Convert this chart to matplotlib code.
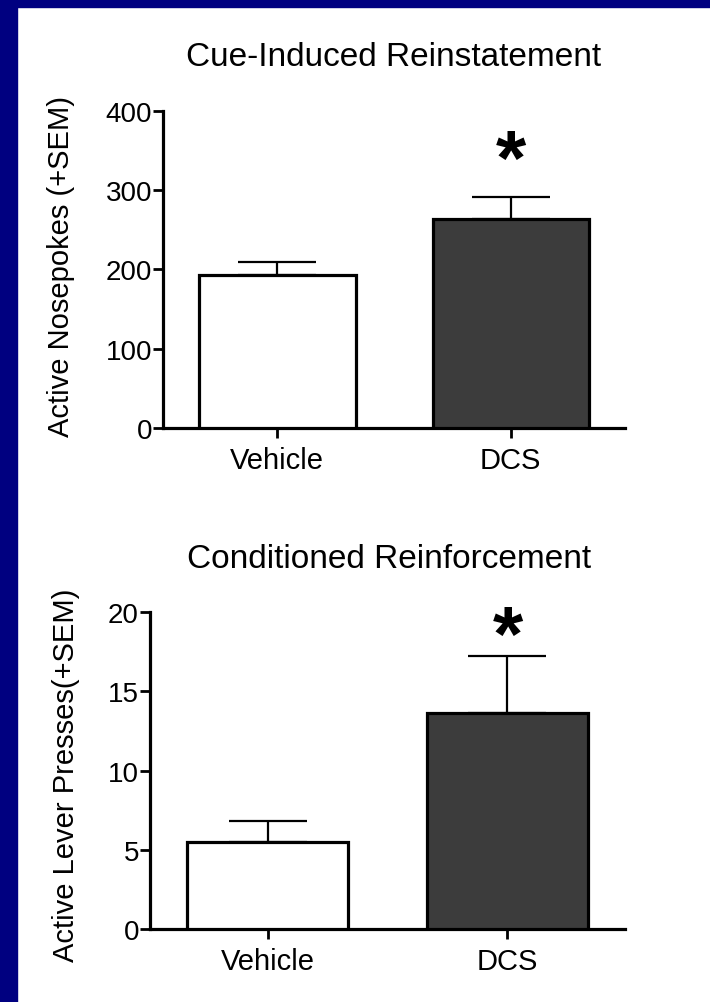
import matplotlib
matplotlib.use("Agg")
import matplotlib.pyplot as plt
from matplotlib.patches import Rectangle

# group names and values for the two experiments
groups = ["Vehicle", "DCS"]
nosepokes_mean = [193, 264]
nosepokes_sem = [16, 27]
presses_mean = [5.5, 13.6]
presses_sem = [1.3, 3.6]

cue_ticks = [0, 100, 200, 300, 400]
cr_ticks = [0, 5, 10, 15, 20]

# height of the significance star in each panel
cue_star = 334
cr_star = 18.3

plt.rcParams['font.family'] = ['Liberation Sans', 'DejaVu Sans']

bar_colours = ['white', '#3c3c3c']
navy = '#000080'


def draw_panel(ax, means, sems, ticks, ylabel, label_x, label_y, star_y):
    """
    Draws one bar panel with upper SEM error bars and a star over DCS.
    """
    x = list(range(len(groups)))
    ax.bar(x, means, width=0.67, color=bar_colours, edgecolor='black',
           linewidth=2.3, zorder=3)
    ax.errorbar(x, means, yerr=[[0] * len(sems), sems], fmt='none',
                ecolor='black', elinewidth=1.6, capsize=28, capthick=1.6,
                zorder=2)

    ax.set_xlim(-0.49, 1.49)
    ax.set_ylim(ticks[0], ticks[-1])
    ax.set_yticks(ticks)
    ax.set_xticks(x)
    ax.set_xticklabels(groups)

    for side in ['top', 'right']:
        ax.spines[side].set_visible(False)
    for side in ['left', 'bottom']:
        ax.spines[side].set_linewidth(2.3)

    ax.tick_params(axis='y', length=7, width=2, labelsize=20, pad=1)
    ax.tick_params(axis='x', length=7, width=2, labelsize=21, pad=6)

    ax.set_ylabel(ylabel, fontsize=21)
    ax.yaxis.set_label_coords(label_x, label_y)

    # significance star above the DCS bar
    ax.text(1, star_y, '*', fontsize=56, fontweight='bold',
            ha='center', va='center', clip_on=False)


fig = plt.figure(figsize=(7.1, 10.03), dpi=100)
fig.patch.set_facecolor('white')

# navy frame along the top and left edges
fig.patches.append(Rectangle((0, 1 - 8 / 1003), 1, 8 / 1003,
                             transform=fig.transFigure, color=navy, zorder=0))
fig.patches.append(Rectangle((0, 0), 17 / 710, 1,
                             transform=fig.transFigure, color=navy, zorder=0))

ax1 = fig.add_axes([0.2296, 0.5723, 0.6507, 0.3161])
draw_panel(ax1, nosepokes_mean, nosepokes_sem, cue_ticks,
           'Active Nosepokes (+SEM)', -0.19, 0.514, cue_star)
fig.text(0.555, 0.934, 'Cue-Induced Reinstatement', fontsize=24,
         ha='center', va='baseline')

ax2 = fig.add_axes([0.2113, 0.0728, 0.669, 0.316])
draw_panel(ax2, presses_mean, presses_sem, cr_ticks,
           'Active Lever Presses(+SEM)', -0.147, 0.489, cr_star)
fig.text(0.548, 0.4337, 'Conditioned Reinforcement', fontsize=24,
         ha='center', va='baseline')

fig.savefig('out.png', dpi=100)
